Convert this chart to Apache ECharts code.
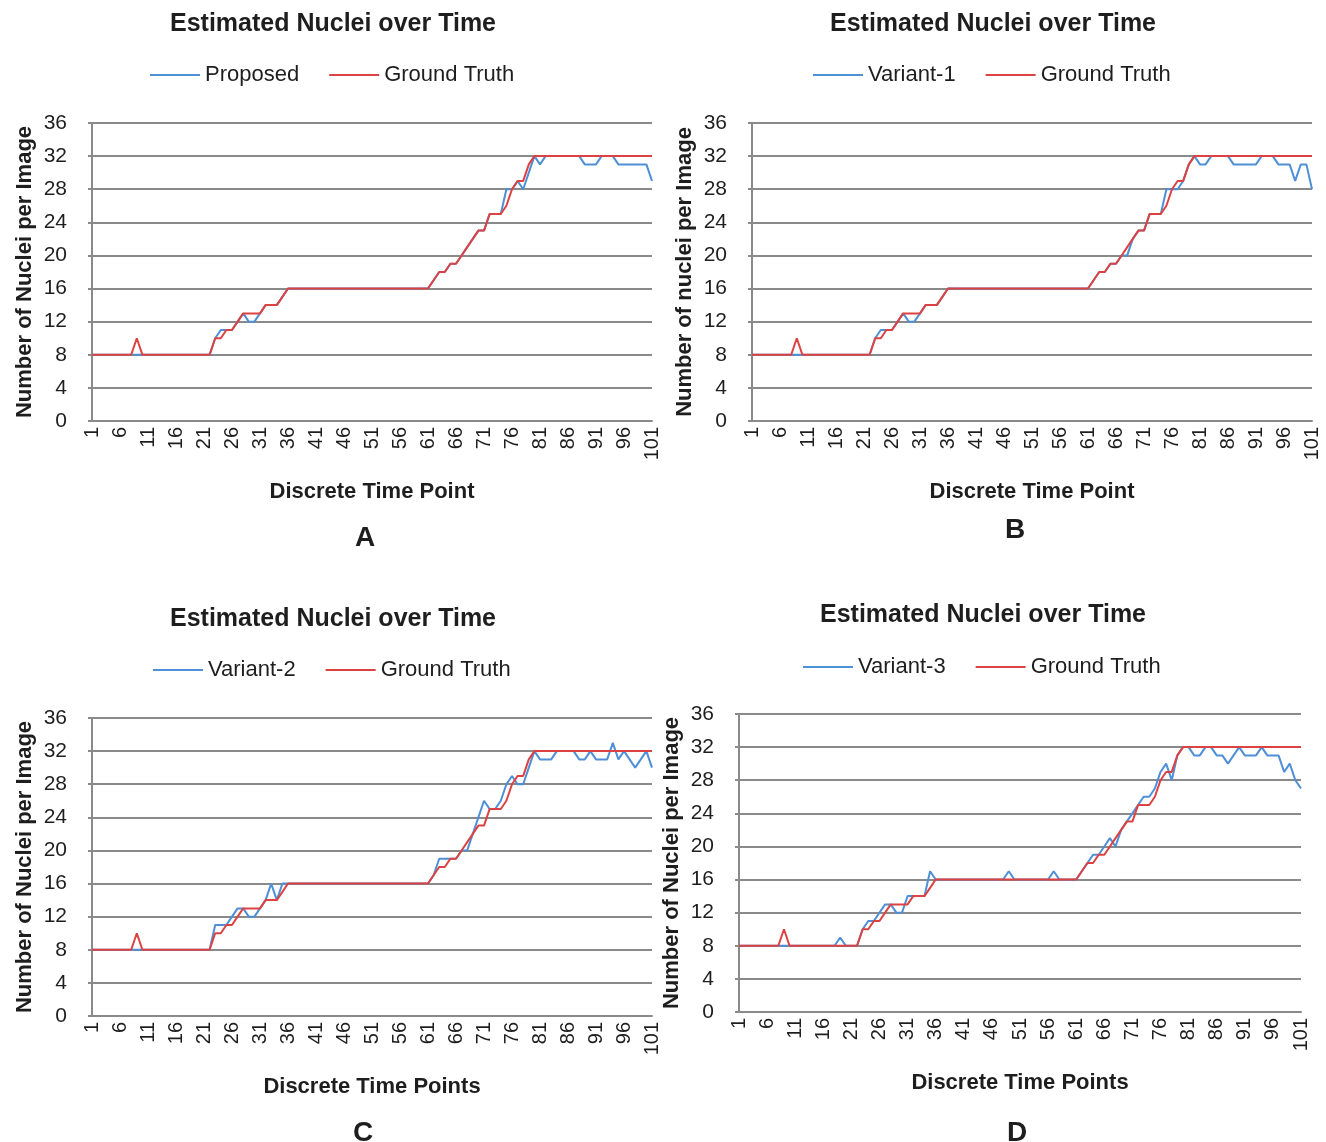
<!DOCTYPE html>
<html>
<head>
<meta charset="utf-8">
<script src="https://cdn.jsdelivr.net/npm/echarts@6/dist/echarts.min.js"></script>
<style>
  html, body { margin: 0; padding: 0; background: #ffffff; }
  #chart { width: 1326px; height: 1142px; }
</style>
</head>
<body>
<div id="chart"></div>
<script>
// Discrete time points 1..101
const timePoints = Array.from({ length: 101 }, (_, i) => String(i + 1));

// Manually counted nuclei per image
const groundTruth = [
  8, 8, 8, 8, 8, 8, 8, 8, 10, 8,
  8, 8, 8, 8, 8, 8, 8, 8, 8, 8,
  8, 8, 10, 10, 11, 11, 12, 13, 13, 13,
  13, 14, 14, 14, 15, 16, 16, 16, 16, 16,
  16, 16, 16, 16, 16, 16, 16, 16, 16, 16,
  16, 16, 16, 16, 16, 16, 16, 16, 16, 16,
  16, 17, 18, 18, 19, 19, 20, 21, 22, 23,
  23, 25, 25, 25, 26, 28, 29, 29, 31, 32,
  32, 32, 32, 32, 32, 32, 32, 32, 32, 32,
  32, 32, 32, 32, 32, 32, 32, 32, 32, 32,
  32
];

// Estimated counts: proposed method
const proposed = [
  8, 8, 8, 8, 8, 8, 8, 8, 8, 8,
  8, 8, 8, 8, 8, 8, 8, 8, 8, 8,
  8, 8, 10, 11, 11, 11, 12, 13, 12, 12,
  13, 14, 14, 14, 15, 16, 16, 16, 16, 16,
  16, 16, 16, 16, 16, 16, 16, 16, 16, 16,
  16, 16, 16, 16, 16, 16, 16, 16, 16, 16,
  16, 17, 18, 18, 19, 19, 20, 21, 22, 23,
  23, 25, 25, 25, 28, 28, 29, 28, 30, 32,
  31, 32, 32, 32, 32, 32, 32, 32, 31, 31,
  31, 32, 32, 32, 31, 31, 31, 31, 31, 31,
  29
];

// Estimated counts: variant 1
const variant1 = [
  8, 8, 8, 8, 8, 8, 8, 8, 8, 8,
  8, 8, 8, 8, 8, 8, 8, 8, 8, 8,
  8, 8, 10, 11, 11, 11, 12, 13, 12, 12,
  13, 14, 14, 14, 15, 16, 16, 16, 16, 16,
  16, 16, 16, 16, 16, 16, 16, 16, 16, 16,
  16, 16, 16, 16, 16, 16, 16, 16, 16, 16,
  16, 17, 18, 18, 19, 19, 20, 20, 22, 23,
  23, 25, 25, 25, 28, 28, 28, 29, 31, 32,
  31, 31, 32, 32, 32, 32, 31, 31, 31, 31,
  31, 32, 32, 32, 31, 31, 31, 29, 31, 31,
  28
];

// Estimated counts: variant 2
const variant2 = [
  8, 8, 8, 8, 8, 8, 8, 8, 8, 8,
  8, 8, 8, 8, 8, 8, 8, 8, 8, 8,
  8, 8, 11, 11, 11, 12, 13, 13, 12, 12,
  13, 14, 16, 14, 16, 16, 16, 16, 16, 16,
  16, 16, 16, 16, 16, 16, 16, 16, 16, 16,
  16, 16, 16, 16, 16, 16, 16, 16, 16, 16,
  16, 17, 19, 19, 19, 19, 20, 20, 22, 24,
  26, 25, 25, 26, 28, 29, 28, 28, 30, 32,
  31, 31, 31, 32, 32, 32, 32, 31, 31, 32,
  31, 31, 31, 33, 31, 32, 31, 30, 31, 32,
  30
];

// Estimated counts: variant 3
const variant3 = [
  8, 8, 8, 8, 8, 8, 8, 8, 8, 8,
  8, 8, 8, 8, 8, 8, 8, 8, 9, 8,
  8, 8, 10, 11, 11, 12, 13, 13, 12, 12,
  14, 14, 14, 14, 17, 16, 16, 16, 16, 16,
  16, 16, 16, 16, 16, 16, 16, 16, 17, 16,
  16, 16, 16, 16, 16, 16, 17, 16, 16, 16,
  16, 17, 18, 19, 19, 20, 21, 20, 22, 23,
  24, 25, 26, 26, 27, 29, 30, 28, 31, 32,
  32, 31, 31, 32, 32, 31, 31, 30, 31, 32,
  31, 31, 31, 32, 31, 31, 31, 29, 30, 28,
  27
];

const FONT = '"Liberation Sans", Arial, Helvetica, sans-serif';
const TEXT = '#1e1e1e';
const GRIDLINE = '#8a8a8a';
const BLUE = '#4f8fd6';
const RED = '#dd4242';

// Panel layout
const panels = [
  { est: proposed, estName: 'Proposed', yName: 'Number of Nuclei per Image', xName: 'Discrete Time Point', letter: 'A',
    grid: { left: 92, top: 123, width: 560, height: 298 }, title: [328, 7], legend: [145, 59], letterPos: [360, 519] },
  { est: variant1, estName: 'Variant-1', yName: 'Number of nuclei per Image', xName: 'Discrete Time Point', letter: 'B',
    grid: { left: 752, top: 123, width: 560, height: 298 }, title: [988, 7], legend: [808, 59], letterPos: [1010, 511] },
  { est: variant2, estName: 'Variant-2', yName: 'Number of Nuclei per Image', xName: 'Discrete Time Points', letter: 'C',
    grid: { left: 92, top: 718, width: 560, height: 298 }, title: [328, 602], legend: [148, 654], letterPos: [358, 1114] },
  { est: variant3, estName: 'Variant-3', yName: 'Number of Nuclei per Image', xName: 'Discrete Time Points', letter: 'D',
    grid: { left: 739, top: 714, width: 562, height: 298 }, title: [978, 598], legend: [798, 651], letterPos: [1012, 1114] }
];

const option = {
  animation: false,
  backgroundColor: '#ffffff',
  title: [],
  legend: [],
  grid: [],
  xAxis: [],
  yAxis: [],
  series: []
};

panels.forEach((p, i) => {
  option.title.push({
    text: 'Estimated Nuclei over Time',
    left: p.title[0], top: p.title[1], textAlign: 'center',
    textStyle: { fontFamily: FONT, fontSize: 25, fontWeight: 'bold', color: TEXT }
  });
  option.title.push({
    text: p.letter,
    left: p.letterPos[0], top: p.letterPos[1], textAlign: 'center',
    textStyle: { fontFamily: FONT, fontSize: 28, fontWeight: 'bold', color: TEXT }
  });
  option.legend.push({
    data: [p.estName, 'Ground Truth'],
    left: p.legend[0], top: p.legend[1],
    icon: 'rect', itemWidth: 50, itemHeight: 2, itemGap: 30,
    textStyle: { fontFamily: FONT, fontSize: 22, color: TEXT },
    selectedMode: false
  });
  option.grid.push(Object.assign({ containLabel: false }, p.grid));
  option.xAxis.push({
    type: 'category', gridIndex: i, data: timePoints, boundaryGap: false,
    name: p.xName, nameLocation: 'middle', nameGap: 60,
    nameTextStyle: { fontFamily: FONT, fontSize: 22, fontWeight: 'bold', color: TEXT },
    axisLine: { show: true, lineStyle: { color: GRIDLINE, width: 2 } },
    axisTick: { show: false },
    axisLabel: { interval: 4, rotate: 90, margin: 6, fontFamily: FONT, fontSize: 20, color: TEXT },
    splitLine: { show: false }
  });
  option.yAxis.push({
    type: 'value', gridIndex: i, min: 0, max: 36, interval: 4,
    name: p.yName, nameLocation: 'middle', nameGap: 56,
    nameTextStyle: { fontFamily: FONT, fontSize: 22, fontWeight: 'bold', color: TEXT },
    axisLine: { show: true, lineStyle: { color: GRIDLINE, width: 2 } },
    axisTick: { show: true, length: 4, lineStyle: { color: GRIDLINE, width: 2 } },
    axisLabel: { margin: 25, fontFamily: FONT, fontSize: 21, color: TEXT },
    splitLine: { show: true, lineStyle: { color: GRIDLINE, width: 2 } }
  });
  option.series.push({
    name: p.estName, type: 'line', xAxisIndex: i, yAxisIndex: i,
    data: p.est, symbol: 'none', lineStyle: { color: BLUE, width: 2 }, itemStyle: { color: BLUE }
  });
  option.series.push({
    name: 'Ground Truth', type: 'line', xAxisIndex: i, yAxisIndex: i,
    data: groundTruth, symbol: 'none', lineStyle: { color: RED, width: 2 }, itemStyle: { color: RED }
  });
});

const chart = echarts.init(document.getElementById('chart'), null, { renderer: 'canvas' });
chart.setOption(option);
</script>
</body>
</html>
